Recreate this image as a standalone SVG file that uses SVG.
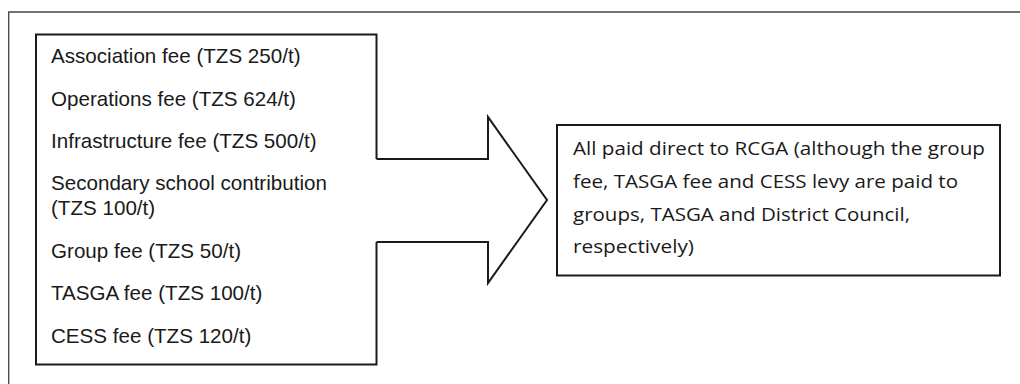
<svg xmlns="http://www.w3.org/2000/svg" width="1020" height="384" viewBox="0 0 1020 384">
<style>
.frame{fill:none;stroke:#444;stroke-width:1.3}
.box{fill:#fff;stroke:#1a1a1a;stroke-width:2}
.lt{font-family:"Liberation Sans",Arial,sans-serif;font-size:20.6px;fill:#1a1a1a}
.rt{font-family:"Open Sans","Noto Sans",sans-serif;font-size:18px;fill:#1a1a1a}
</style>
<rect width="1020" height="384" fill="#fff"/>
<path class="frame" d="M1021,12 H8.7 V385"/>
<g id="fees">
<rect class="box" x="36" y="34.5" width="340.5" height="330"/>
<text class="lt" x="51" y="63">Association fee (TZS 250/t)</text>
<text class="lt" x="51" y="105.5">Operations fee (TZS 624/t)</text>
<text class="lt" x="51" y="148">Infrastructure fee (TZS 500/t)</text>
<text class="lt" x="51" y="190">Secondary school contribution</text>
<text class="lt" x="51" y="215">(TZS 100/t)</text>
<text class="lt" x="51" y="258">Group fee (TZS 50/t)</text>
<text class="lt" x="51" y="300">TASGA fee (TZS 100/t)</text>
<text class="lt" x="51" y="342.5">CESS fee (TZS 120/t)</text>
</g>
<g id="connectors">
<polygon points="372,159 488,159 488,117 547,200 488,283 488,242 372,242" fill="#fff" stroke="none"/>
<polyline points="376.5,159 488,159 488,117 547,200 488,283 488,242 376.5,242" fill="none" stroke="#1a1a1a" stroke-width="2" stroke-linejoin="miter"/>
</g>
<g id="result">
<rect class="box" x="557" y="125" width="443" height="150.5"/>
<text class="rt" x="573" y="155" textLength="412" lengthAdjust="spacingAndGlyphs">All paid direct to RCGA (although the group</text>
<text class="rt" x="573" y="188" textLength="385" lengthAdjust="spacingAndGlyphs">fee, TASGA fee and CESS levy are paid to</text>
<text class="rt" x="573" y="220.5" textLength="337" lengthAdjust="spacingAndGlyphs">groups, TASGA and District Council,</text>
<text class="rt" x="573" y="253" textLength="121" lengthAdjust="spacingAndGlyphs">respectively)</text>
</g>
</svg>
